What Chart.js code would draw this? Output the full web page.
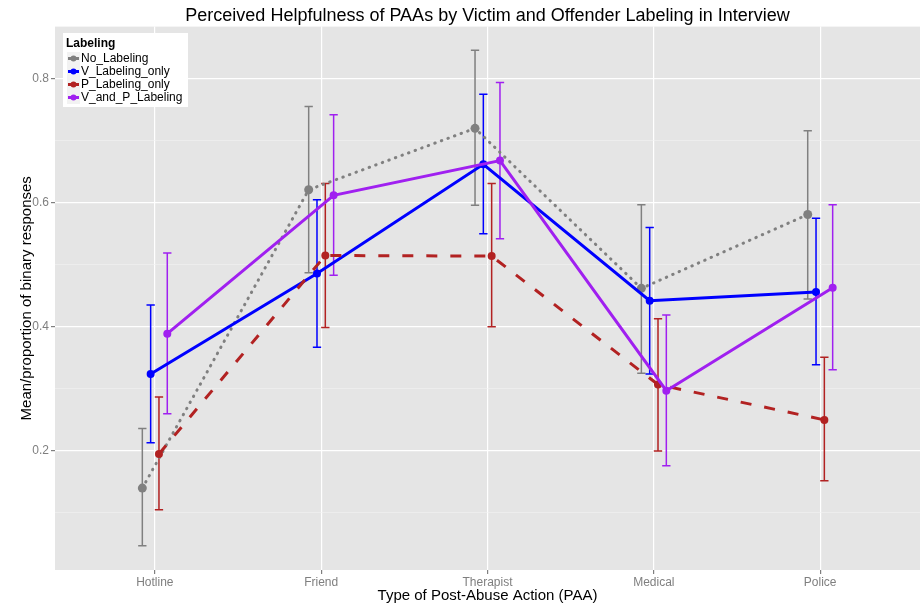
<!DOCTYPE html>
<html>
<head>
<meta charset="utf-8">
<script src="https://cdn.jsdelivr.net/npm/chart.js@4.4.1/dist/chart.umd.min.js"></script>
<style>
  html, body { margin: 0; padding: 0; background: #fff; }
  #wrap { width: 920px; height: 608px; }
</style>
</head>
<body>
<div id="wrap"><canvas id="chart" width="920" height="608"></canvas></div>
<script>
// data
const categories = ['Hotline', 'Friend', 'Therapist', 'Medical', 'Police'];
const seriesNames = ['No_Labeling', 'V_Labeling_only', 'P_Labeling_only', 'V_and_P_Labeling'];

const noLabeling     = [0.140, 0.621, 0.720, 0.462, 0.581];
const noLabelingLow  = [0.047, 0.487, 0.596, 0.325, 0.445];
const noLabelingHigh = [0.236, 0.755, 0.846, 0.597, 0.716];

const vLabeling     = [0.324, 0.486, 0.662, 0.442, 0.456];
const vLabelingLow  = [0.213, 0.367, 0.550, 0.324, 0.339];
const vLabelingHigh = [0.435, 0.605, 0.775, 0.560, 0.575];

const pLabeling     = [0.195, 0.515, 0.514, 0.307, 0.250];
const pLabelingLow  = [0.105, 0.399, 0.400, 0.200, 0.152];
const pLabelingHigh = [0.287, 0.631, 0.631, 0.413, 0.351];

const vpLabeling     = [0.389, 0.612, 0.668, 0.297, 0.463];
const vpLabelingLow  = [0.260, 0.483, 0.542, 0.176, 0.331];
const vpLabelingHigh = [0.519, 0.742, 0.794, 0.419, 0.597];

const yMajor = [0.2, 0.4, 0.6, 0.8];
const yMinor = [0.1, 0.3, 0.5, 0.7];

const colors = ['#808080', '#0000FF', '#B22222', '#A020F0'];
const dodge = [-0.075, -0.025, 0.025, 0.075];
const FONT = '"Liberation Sans", Arial, sans-serif';

const means = [noLabeling, vLabeling, pLabeling, vpLabeling];
const lows = [noLabelingLow, vLabelingLow, pLabelingLow, vpLabelingLow];
const highs = [noLabelingHigh, vLabelingHigh, pLabelingHigh, vpLabelingHigh];
const dashes = [[0.5, 6.5], [], [11, 13], []];
const widths = [3, 3, 3, 3];

const isMajor = v => yMajor.some(m => Math.abs(m - v) < 1e-6);

const datasets = means.map((vals, s) => ({
  label: seriesNames[s],
  data: vals.map((v, i) => ({ x: i + dodge[s], y: v })),
  borderColor: colors[s],
  backgroundColor: colors[s],
  borderWidth: widths[s],
  borderDash: dashes[s],
  borderCapStyle: s === 0 ? 'round' : 'butt',
  pointRadius: s === 0 ? 4.5 : 4,
  pointHoverRadius: 4,
  pointBorderWidth: 0,
  tension: 0,
  order: 4 - s
}));

const panelBg = {
  id: 'panelBg',
  beforeDraw(chart) {
    const a = chart.chartArea, c = chart.ctx;
    c.save();
    c.fillStyle = '#E5E5E5';
    c.fillRect(a.left, a.top, a.right - a.left, a.bottom - a.top);
    c.restore();
  }
};

const errorBars = {
  id: 'errorBars',
  beforeDatasetsDraw(chart) {
    const c = chart.ctx, xs = chart.scales.x, ys = chart.scales.y;
    c.save();
    c.lineWidth = 1.5;
    means.forEach((vals, s) => {
      c.strokeStyle = colors[s];
      vals.forEach((v, i) => {
        const x = xs.getPixelForValue(i + dodge[s]);
        const x0 = xs.getPixelForValue(i + dodge[s] - 0.025);
        const x1 = xs.getPixelForValue(i + dodge[s] + 0.025);
        const yl = ys.getPixelForValue(lows[s][i]);
        const yh = ys.getPixelForValue(highs[s][i]);
        c.beginPath();
        c.moveTo(x, yl); c.lineTo(x, yh);
        c.moveTo(x0, yl); c.lineTo(x1, yl);
        c.moveTo(x0, yh); c.lineTo(x1, yh);
        c.stroke();
      });
    });
    c.restore();
  }
};

const boxLegend = {
  id: 'boxLegend',
  afterDraw(chart) {
    const c = chart.ctx;
    c.save();
    c.fillStyle = '#fff';
    c.fillRect(63, 33, 125, 74);
    c.fillStyle = '#000';
    c.font = 'bold 12px ' + FONT;
    c.textBaseline = 'middle';
    c.fillText('Labeling', 66, 44);
    seriesNames.forEach((name, s) => {
      const y = 58.5 + s * 13;
      c.fillStyle = '#F2F2F2';
      c.fillRect(67, y - 6.5, 13, 13);
      c.strokeStyle = colors[s];
      c.lineWidth = 3;
      c.beginPath();
      c.moveTo(68, y); c.lineTo(79, y);
      c.stroke();
      c.fillStyle = colors[s];
      c.beginPath();
      c.arc(73.5, y, 3, 0, Math.PI * 2);
      c.fill();
      c.fillStyle = '#000';
      c.font = '12px ' + FONT;
      c.fillText(name, 81, y + 0.5);
    });
    c.restore();
  }
};

new Chart(document.getElementById('chart'), {
  type: 'line',
  data: { datasets },
  plugins: [panelBg, errorBars, boxLegend],
  options: {
    responsive: false,
    animation: false,
    layout: { padding: 0, autoPadding: false },
    plugins: {
      legend: { display: false },
      tooltip: { enabled: false },
      title: {
        display: true,
        fullSize: false,
        text: 'Perceived Helpfulness of PAAs by Victim and Offender Labeling in Interview',
        color: '#000',
        font: { family: FONT, size: 18, weight: 'normal' },
        padding: { top: 5, bottom: 0 }
      }
    },
    scales: {
      x: {
        type: 'linear',
        min: -0.6,
        max: 4.6,
        afterBuildTicks: s => { s.ticks = categories.map((c, i) => ({ value: i })); },
        afterFit: s => { s.height = 38; s.paddingLeft = 0; s.paddingRight = 0; },
        ticks: {
          callback: v => categories[v],
          color: '#7F7F7F',
          font: { family: FONT, size: 12 },
          padding: 1,
          maxRotation: 0,
          autoSkip: false
        },
        grid: { color: '#FFFFFF', lineWidth: 1.2, tickColor: '#7F7F7F', tickLength: 4 },
        border: { display: false },
        title: {
          display: true,
          text: 'Type of Post-Abuse Action (PAA)',
          color: '#000',
          font: { family: FONT, size: 15 },
          padding: { top: 3, bottom: 3 }
        }
      },
      y: {
        min: 0.008,
        max: 0.884,
        afterBuildTicks: s => {
          s.ticks = yMinor.concat(yMajor).sort((a, b) => a - b).map(v => ({ value: v }));
        },
        afterFit: s => { s.width = 55; s.paddingTop = 0; s.paddingBottom = 0; },
        ticks: {
          callback: v => (isMajor(v) ? v.toFixed(1) : ''),
          color: '#7F7F7F',
          font: { family: FONT, size: 12 },
          padding: 2
        },
        grid: {
          color: ctx => (isMajor(ctx.tick.value) ? '#FFFFFF' : '#F2F2F2'),
          lineWidth: ctx => (isMajor(ctx.tick.value) ? 1.2 : 0.6),
          tickColor: ctx => (isMajor(ctx.tick.value) ? '#7F7F7F' : 'rgba(0,0,0,0)'),
          tickLength: 4
        },
        border: { display: false },
        title: {
          display: true,
          text: 'Mean/proportion of binary responses',
          color: '#000',
          font: { family: FONT, size: 15 },
          padding: { top: 18, bottom: 0 }
        }
      }
    }
  }
});
</script>
</body>
</html>
